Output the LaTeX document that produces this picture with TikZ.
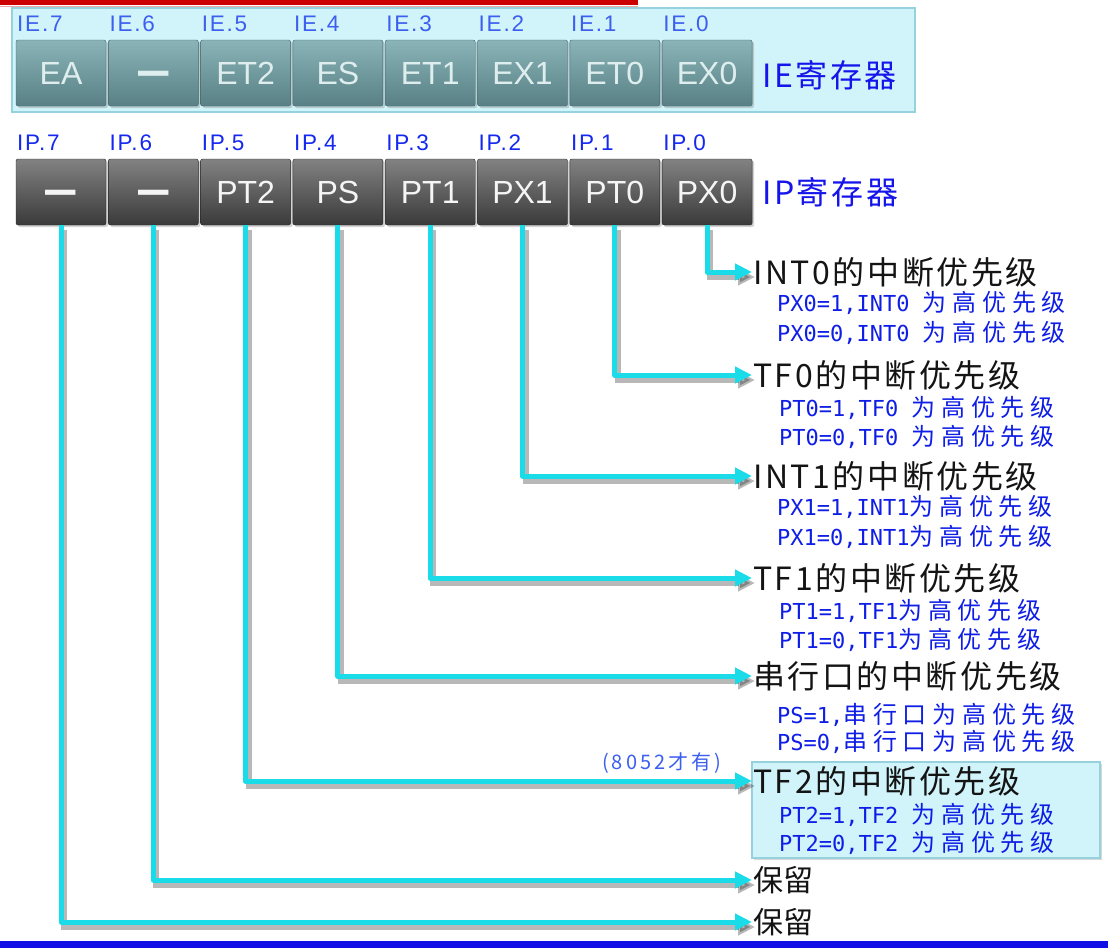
\documentclass[tikz,border=0pt]{standalone}
\usepackage{fontspec}
\usepackage{graphicx}
\setmainfont{Liberation Sans}
\newfontfamily\cjk{Noto Sans CJK SC}
\newfontfamily\cjksp{Noto Sans CJK SC}[LetterSpace=24]
\newfontfamily\cjkhd{Noto Sans CJK SC}[LetterSpace=8]
\newfontfamily\cjkn{Noto Sans CJK SC}[LetterSpace=15]
\newfontfamily\monof{DejaVu Sans Mono}
\newfontfamily\labf{Liberation Sans}[LetterSpace=8]
\usetikzlibrary{arrows.meta,shadows}

\definecolor{iefill}{RGB}{208,244,250}
\definecolor{ieedge}{RGB}{150,210,222}
\definecolor{lblue}{RGB}{60,95,240}
\definecolor{ipblue}{RGB}{20,40,240}
\definecolor{dblue}{RGB}{20,20,235}
\definecolor{subblue}{RGB}{15,30,230}
\definecolor{cyanl}{RGB}{25,220,232}
\definecolor{redbar}{RGB}{204,0,0}
\definecolor{bluebar}{RGB}{16,16,230}
\definecolor{headc}{RGB}{20,20,20}

\newcommand\dashmark{\raisebox{-3pt}{\scalebox{0.95}[1.6]{\bfseries —}}}
\newcommand\subm[1]{{\monof\fontsize{22}{26}\selectfont #1}}
\newcommand\subc[1]{{\cjksp\fontsize{24}{26}\selectfont #1}}

\begin{document}
\begin{tikzpicture}[x=1pt,y=-1pt,
  cellbase/.style={rectangle, rounded corners=2pt, minimum width=90pt, minimum height=66pt,
    inner sep=0pt, font=\fontsize{32}{32}\selectfont, text height=23pt, text depth=0pt,
    drop shadow={shadow xshift=2pt, shadow yshift=-2pt, opacity=0.35}},
  iecell/.style={cellbase, draw={rgb,255:red,70;green,100;blue,105},
    top color={rgb,255:red,138;green,180;blue,184}, bottom color={rgb,255:red,88;green,128;blue,133},
    text={rgb,255:red,222;green,238;blue,238}},
  ipcell/.style={cellbase, draw={rgb,255:red,40;green,40;blue,40},
    top color={rgb,255:red,130;green,130;blue,130}, bottom color={rgb,255:red,58;green,58;blue,58},
    text={rgb,255:red,245;green,245;blue,245}},
  bitlab/.style={anchor=west, inner sep=0pt, font=\labf\fontsize{22.5}{26}\selectfont},
  regname/.style={anchor=west, inner sep=0pt, text=dblue, font=\cjkhd\fontsize{32}{36}\selectfont},
  head/.style={anchor=west, inner sep=1pt, text=headc, font=\cjkhd\fontsize{32}{36}\selectfont},
  sub/.style={anchor=west, inner sep=0pt, text=subblue},
  conn/.style={draw=cyanl, line width=5pt, line join=round,
    -{Triangle[length=17pt,width=16pt]},
    preaction={draw=black, opacity=0.28, line width=6pt,
      transform canvas={shift={(3,5)}}}},
  lightbox/.style={rectangle, fill=iefill, draw=ieedge, line width=1.5pt, inner sep=0pt}
]
\useasboundingbox (0,0) rectangle (1108,948);
\fill[white] (0,0) rectangle (1108,948);

% top red bar and bottom blue bar
\fill[redbar] (0,0) rectangle (638,5);
\fill[redbar!35] (0,5.5) rectangle (638,7);
\fill[bluebar] (0,941) rectangle (1108,948);

% IE register
\node[lightbox, minimum width=903pt, minimum height=104pt] (iebox) at (463.5,60) {};
\foreach \txt [count=\k from 0] in {EA,\dashmark,ET2,ES,ET1,EX1,ET0,EX0} {
  \pgfmathsetmacro\bit{int(7-\k)}
  \node[iecell] (ie\bit) at ({61+92.3*\k},73) {\txt};
  \node[bitlab, text=lblue] (iel\bit) at ({17+92.3*\k},24) {IE.\bit};
}
\node[regname] (iename) at (762,75) {IE寄存器};

% IP register
\foreach \txt [count=\k from 0] in {\dashmark,\dashmark,PT2,PS,PT1,PX1,PT0,PX0} {
  \pgfmathsetmacro\bit{int(7-\k)}
  \node[ipcell] (ip\bit) at ({61+92.3*\k},192) {\txt};
  \node[bitlab, text=ipblue] (ipl\bit) at ({17+92.3*\k},143) {IP.\bit};
}
\node[regname] (ipname) at (762,192) {IP寄存器};

% TF2 highlight box
\node[lightbox, minimum width=348pt, minimum height=96pt,
  drop shadow={shadow xshift=2pt, shadow yshift=-2pt, opacity=0.3}] (tf2box) at (926,810) {};

% headings
\node[head] (t0) at (752,272) {INT0的中断优先级};
\node[head] (t1) at (752,375) {TF0的中断优先级};
\node[head] (t2) at (752,476) {INT1的中断优先级};
\node[head] (t3) at (752,578) {TF1的中断优先级};
\node[head] (t4) at (752,676) {串行口的中断优先级};
\node[head] (t5) at (752,781) {TF2的中断优先级};
\node[head, font=\cjk\fontsize{30}{34}\selectfont] (t6) at (752,880) {保留};
\node[head, font=\cjk\fontsize{30}{34}\selectfont] (t7) at (752,922) {保留};

% sub lines
\node[sub] (s0a) at (777,303) {\subm{PX0=1,INT0 }\subc{为高优先级}};
\node[sub] (s0b) at (777,333) {\subm{PX0=0,INT0 }\subc{为高优先级}};
\node[sub] (s1a) at (779,408) {\subm{PT0=1,TF0 }\subc{为高优先级}};
\node[sub] (s1b) at (779,437) {\subm{PT0=0,TF0 }\subc{为高优先级}};
\node[sub] (s2a) at (777,507) {\subm{PX1=1,INT1}\subc{为高优先级}};
\node[sub] (s2b) at (777,537) {\subm{PX1=0,INT1}\subc{为高优先级}};
\node[sub] (s3a) at (779,611) {\subm{PT1=1,TF1}\subc{为高优先级}};
\node[sub] (s3b) at (779,640) {\subm{PT1=0,TF1}\subc{为高优先级}};
\node[sub] (s4a) at (777,715) {\subm{PS=1,}\subc{串行口为高优先级}};
\node[sub] (s4b) at (777,742) {\subm{PS=0,}\subc{串行口为高优先级}};
\node[sub] (s5a) at (779,815) {\subm{PT2=1,TF2 }\subc{为高优先级}};
\node[sub] (s5b) at (779,843) {\subm{PT2=0,TF2 }\subc{为高优先级}};

\node[anchor=west, inner sep=0pt, text=lblue, font=\cjkn\fontsize{20}{23}\selectfont] (note) at (602,763) {(8052才有)};

% connectors
\foreach \i in {0,...,7} {
  \draw[conn] (ip\i.south) |- (t\i.west);
}
\end{tikzpicture}
\end{document}
